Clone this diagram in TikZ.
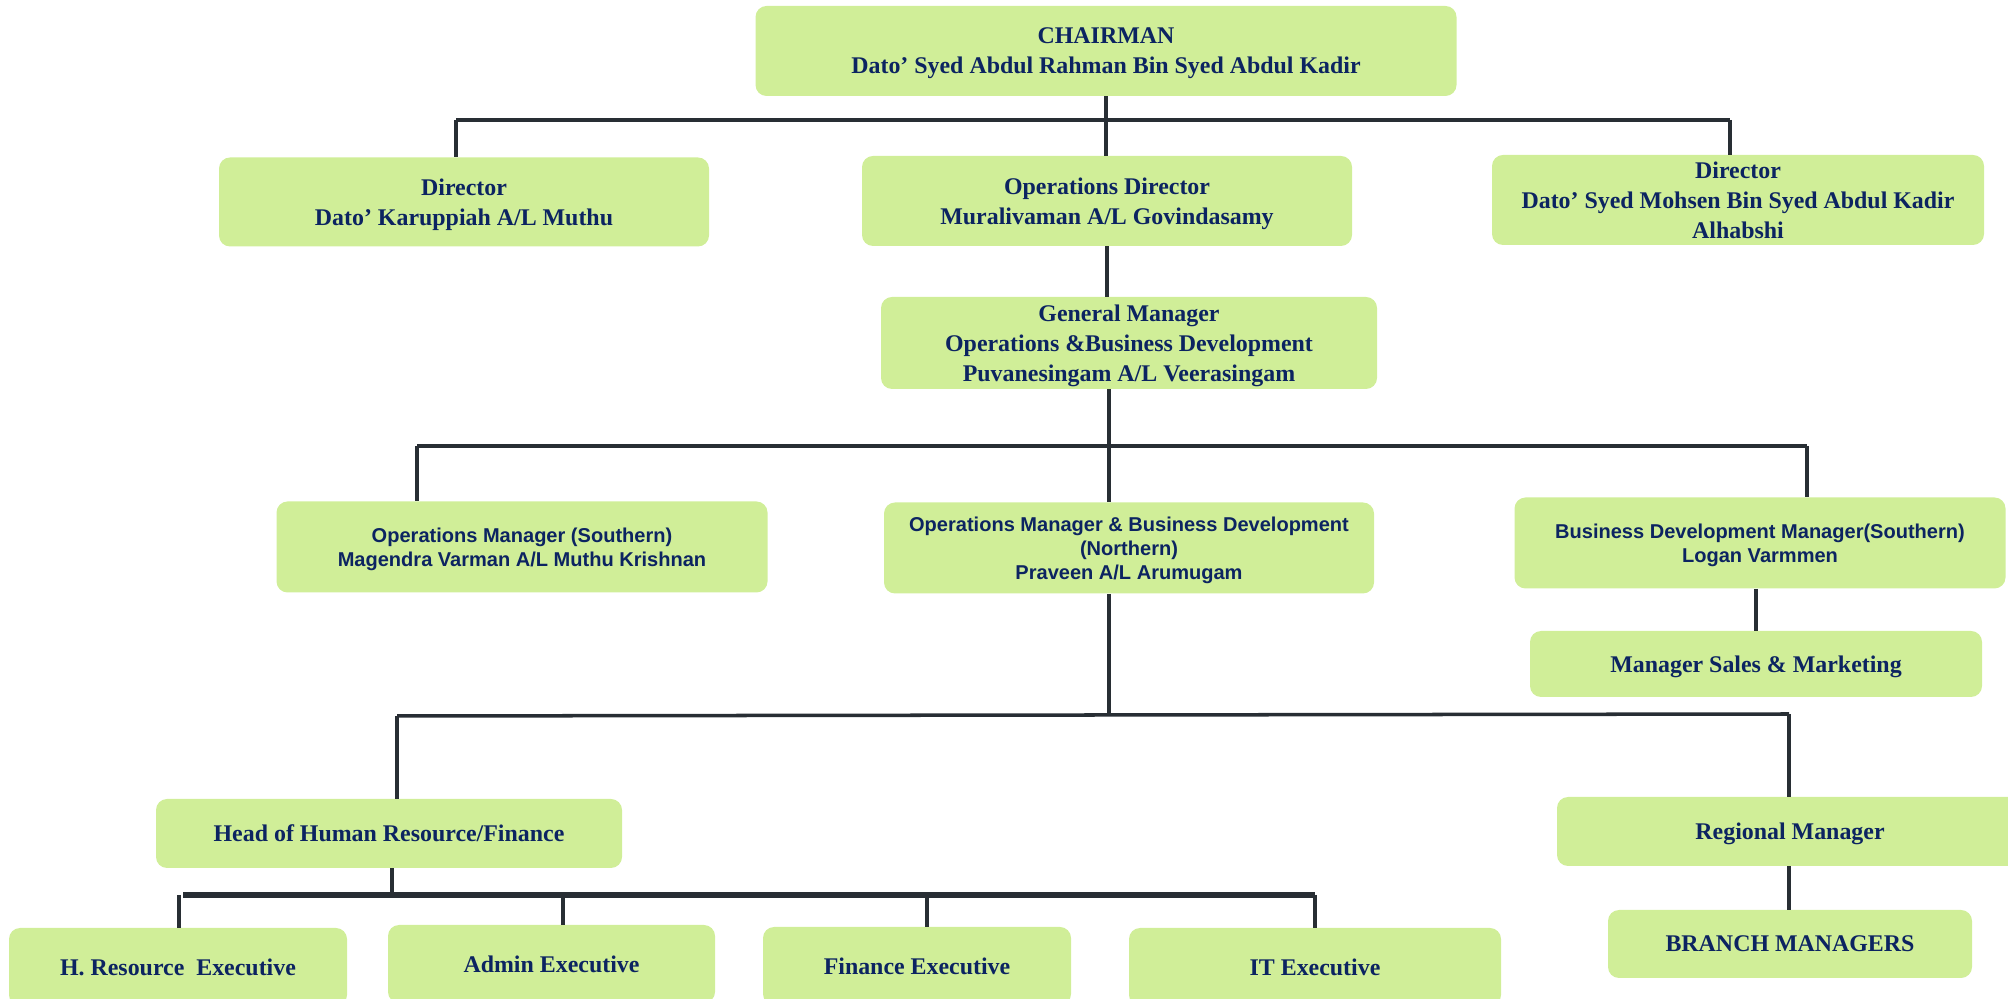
\documentclass[tikz,border=0pt]{standalone}
\usepackage{fontspec}
\setmainfont{Liberation Serif}
\newfontfamily\arialfont{Liberation Sans}
\usetikzlibrary{positioning,calc}
\definecolor{boxgreen}{RGB}{208,238,152}
\definecolor{navytext}{RGB}{12,36,97}
\definecolor{linkgray}{RGB}{40,46,52}
\tikzset{
  box/.style={rectangle, rounded corners=0.22cm, fill=boxgreen, text=navytext, align=center, inner sep=0pt, text depth=-8pt, font=\fontsize{13.6}{17}\selectfont\bfseries},
  sbox/.style={box, font=\arialfont\fontsize{11.4}{13.6}\selectfont\bfseries},
  link/.style={draw=linkgray, line width=2pt},
  buslink/.style={draw=linkgray, line width=3.4pt},
}

\begin{document}
\begin{tikzpicture}

  \useasboundingbox (0,0) rectangle (40.16,19.98);

  % top of the tree
  \node[box, minimum width=14.02cm, minimum height=1.80cm] at (22.12,18.96) (chair) {CHAIRMAN\\Dato’ Syed Abdul Rahman Bin Syed Abdul Kadir};

  \node[box, minimum width=9.80cm, minimum height=1.78cm] at (9.28,15.94) (dirl) {Director\\Dato’ Karuppiah A/L Muthu};
  \node[box, minimum width=9.80cm, minimum height=1.80cm] at (22.14,15.96) (opsd) {Operations Director\\Muralivaman A/L Govindasamy};
  \node[box, minimum width=9.84cm, minimum height=1.80cm] at (34.76,15.98) (dirr) {Director\\Dato’ Syed Mohsen Bin Syed Abdul Kadir\\Alhabshi};

  \node[box, minimum width=9.92cm, minimum height=1.84cm] at (22.58,13.12) (gm) {General Manager\\Operations \&Business Development\\Puvanesingam A/L Veerasingam};

  % managers
  \node[sbox, minimum width=9.82cm, minimum height=1.82cm] at (10.44,9.04) (oms) {Operations Manager (Southern)\\Magendra Varman A/L Muthu Krishnan};
  \node[sbox, minimum width=9.80cm, minimum height=1.82cm] at (22.58,9.02) (omn) {Operations Manager \& Business Development\\(Northern)\\Praveen A/L Arumugam};
  \node[sbox, minimum width=9.82cm, minimum height=1.82cm] at (35.20,9.12) (bdm) {Business Development Manager(Southern)\\Logan Varmmen};

  \node[box, minimum width=9.04cm, minimum height=1.32cm] at (35.12,6.70) (sales) {Manager Sales \& Marketing};

  \node[box, minimum width=9.32cm, minimum height=1.38cm] at (7.78,3.31) (hhr) {Head of Human Resource/Finance};
  \node[box, minimum width=9.32cm, minimum height=1.38cm] at (35.80,3.35) (reg) {Regional Manager};
  \node[box, minimum width=7.28cm, minimum height=1.36cm] at (35.80,1.10) (bm) {BRANCH MANAGERS};

  % executives, cut by the lower edge
  \node[box, minimum width=6.76cm, minimum height=1.56cm] at (3.56,0.64) (hre) {H. Resource~ Executive};
  \node[box, minimum width=6.54cm, minimum height=1.56cm] at (11.03,0.70) (adm) {Admin Executive};
  \node[box, minimum width=6.16cm, minimum height=1.56cm] at (18.34,0.66) (fin) {Finance Executive};
  \node[box, minimum width=7.44cm, minimum height=1.56cm] at (26.30,0.64) (ite) {IT Executive};

  % bus levels
  \coordinate (b1l) at (9.12,17.58);
  \coordinate (b1r) at (34.60,17.58);
  \coordinate (b2l) at (8.34,11.06);
  \coordinate (b2m) at (22.18,11.06);
  \coordinate (b2r) at (36.14,11.06);
  \coordinate (b3l) at (7.94,5.66);
  \coordinate (b3m) at (22.18,5.68);
  \coordinate (b3r) at (35.78,5.70);
  \coordinate (b4l) at (3.66,2.08);
  \coordinate (b4r) at (26.30,2.08);

  \draw[link] (chair.south) -- (chair.south |- opsd.north);
  \draw[link] (b1l) -- (b1r);
  \draw[link] (b1l) -- (b1l |- dirl.north);
  \draw[link] (b1r) -- (b1r |- dirr.north);
  \draw[link] (opsd.south) -- (opsd.south |- gm.north);

  \draw[link] (b2m |- gm.south) -- (b2m);
  \draw[link] (b2l) -- (b2r);
  \draw[link] (b2l) -- (b2l |- oms.north);
  \draw[link] (b2m) -- (b2m |- omn.north);
  \draw[link] (b2r) -- (b2r |- bdm.north);
  \draw[link] (sales.north |- bdm.south) -- (sales.north);

  \draw[link] (b3m |- omn.south) -- (b3m);
  \draw[link] (b3l) -- (b3r);
  \draw[link] (b3l) -- (b3l |- hhr.north);
  \draw[link] (b3r) -- (b3r |- reg.north);
  \draw[link] (b3r |- reg.south) -- (b3r |- bm.north);

  \draw[link] (7.84,2.08 |- hhr.south) -- (7.84,2.08);
  \draw[buslink] (b4l) -- (b4r);
  \draw[link] (3.58,2.08) -- (3.58,2.08 |- hre.north);
  \draw[link] (11.26,2.08) -- (11.26,2.08 |- adm.north);
  \draw[link] (18.54,2.08) -- (18.54,2.08 |- fin.north);
  \draw[link] (b4r) -- (ite.north);

\end{tikzpicture}
\end{document}
